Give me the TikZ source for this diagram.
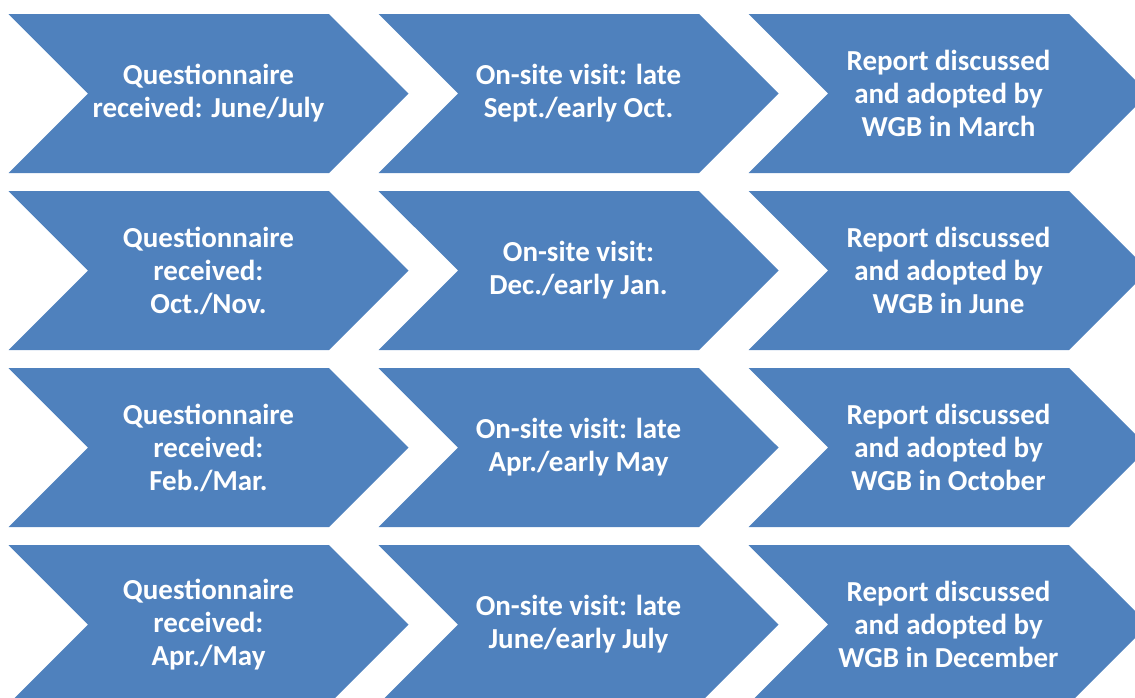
\documentclass[tikz,border=0pt]{standalone}
\usepackage{fontspec}
\setmainfont{Carlito}
\usepackage{tikz}
\usetikzlibrary{shapes.symbols}
\usetikzlibrary{positioning}
\definecolor{stepblue}{HTML}{4F81BD}

\begin{document}
\begin{tikzpicture}[x = 1pt, y = -1pt, step node/.style={signal, signal from=west, signal to=east, signal pointer angle=90, minimum width=400pt, minimum height=159pt, inner sep=0pt, fill=stepblue, draw=none, text=white, align=center, font=\fontsize{29}{33}\selectfont\bfseries}]
      \useasboundingbox (0, 0) rectangle (1135, 697);
      \node[step node] (q1) at (208.5, 93.5) {Questionnaire\\received: June/July};
      \node[step node] (v1) at (578.5, 93.5) {On-site visit: late\\Sept./early Oct.};
      \node[step node] (r1) at (948.5, 93.5) {Report discussed\\and adopted by\\WGB in March};
      \node[step node] (q2) at (208.5, 270.5) {Questionnaire\\received:\\Oct./Nov.};
      \node[step node] (v2) at (578.5, 270.5) {On-site visit:\\Dec./early Jan.};
      \node[step node] (r2) at (948.5, 270.5) {Report discussed\\and adopted by\\WGB in June};
      \node[step node] (q3) at (208.5, 447.5) {Questionnaire\\received:\\Feb./Mar.};
      \node[step node] (v3) at (578.5, 447.5) {On-site visit: late\\Apr./early May};
      \node[step node] (r3) at (948.5, 447.5) {Report discussed\\and adopted by\\WGB in October};
      \node[step node] (q4) at (208.5, 624.5) {Questionnaire\\received:\\Apr./May};
      \node[step node] (v4) at (578.5, 624.5) {On-site visit: late\\June/early July};
      \node[step node] (r4) at (948.5, 624.5) {Report discussed\\and adopted by\\WGB in December};
    \end{tikzpicture}
\end{document}
